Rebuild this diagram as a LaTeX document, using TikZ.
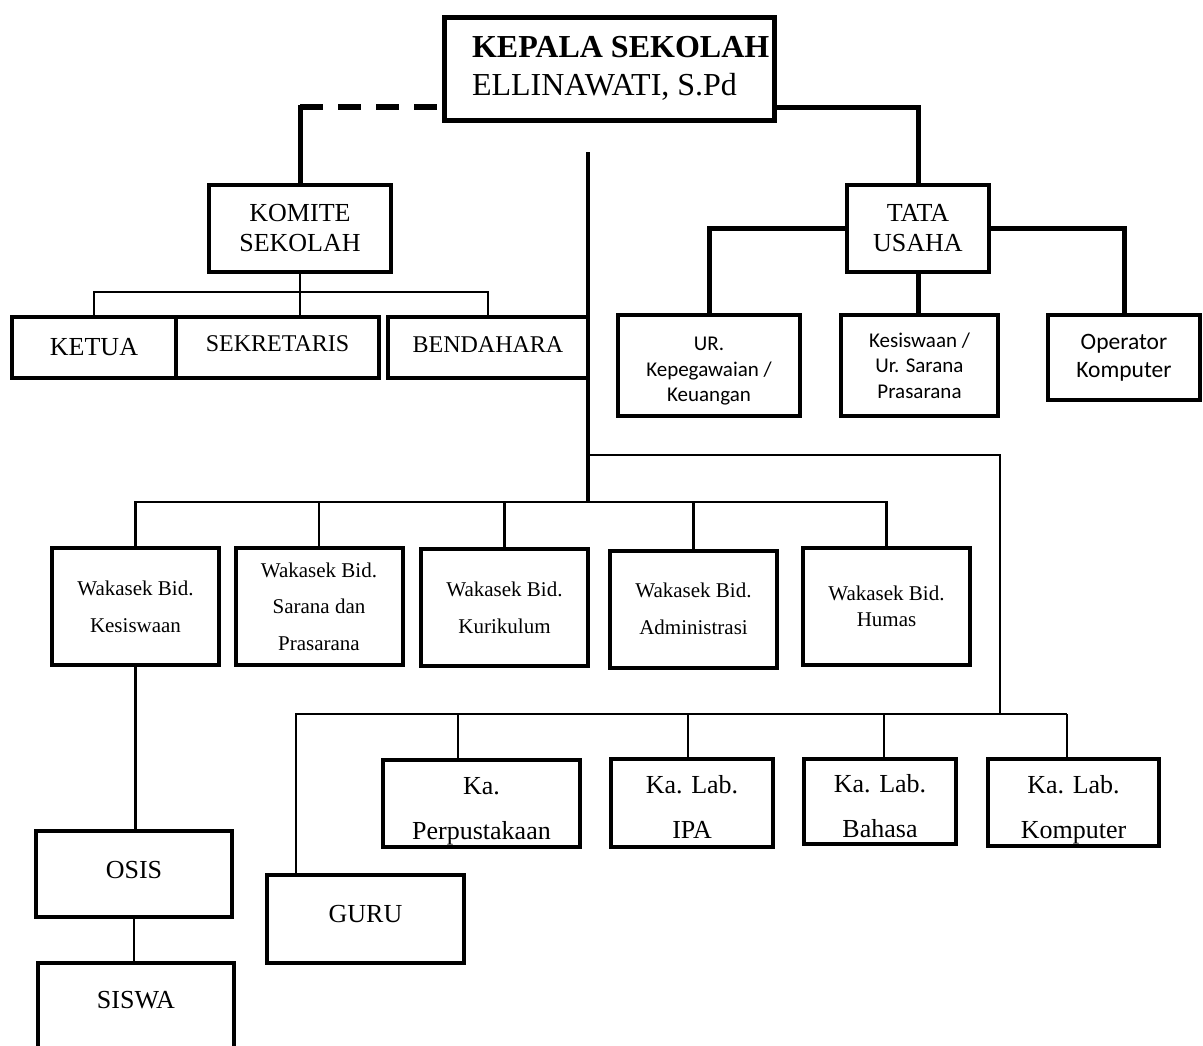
\documentclass[tikz,border=0pt]{standalone}
\usepackage{fontspec}
\setmainfont{Liberation Serif}
\newfontfamily\calibri{Carlito}
\newcommand\fs[2]{\fontsize{#1}{#2}\selectfont}

\begin{document}
\begin{tikzpicture}[x=1pt,y=-1pt,
    box/.style={draw,line width=4pt,inner sep=0pt,align=center},
    lab/.style={box,font=\fs{26}{45},text height=71pt,text depth=0pt},
    wakasek/.style={box,minimum width=167pt,minimum height=117pt,font=\fs{21}{37}},
    thickline/.style={line width=5pt,line cap=rect},
    thinline/.style={line width=2.4pt},
    dashline/.style={line width=5.5pt,dash pattern=on 23pt off 15pt}]
    \path[fill=white,use as bounding box] (0,0) rectangle (1203,1045);

    \node[box,line width=5pt,minimum width=330pt,minimum height=103pt,
        label={[anchor=west,xshift=27pt,align=left,font=\fs{32}{38}]west:{\textbf{KEPALA SEKOLAH}\\ELLINAWATI, S.Pd}}] (kepsek) at (609,68.5) {};

    \node[box,minimum width=182pt,minimum height=87pt,font=\fs{26}{30}] (komite) at (300,228.5) {KOMITE\\SEKOLAH};
    \node[box,minimum width=164pt,minimum height=61pt,font=\fs{26}{30}] (ketua) at (94,347.5) {KETUA};
    \node[box,minimum width=203pt,minimum height=61pt,font=\fs{24}{28},text depth=8pt] (sekretaris) at (277.5,347.5) {SEKRETARIS};
    \node[box,minimum width=200pt,minimum height=61pt,font=\fs{24}{28},text depth=6pt] (bendahara) at (488,347.5) {BENDAHARA};

    \node[box,minimum width=142pt,minimum height=87pt,font=\fs{26}{30}] (tu) at (918,228.5) {TATA\\USAHA};
    \node[box,minimum width=182pt,minimum height=101pt,font=\calibri\fs{21}{25.5},text height=72pt,text depth=0pt] (urpeg) at (709,365.5) {UR.\\Kepegawaian /\\Keuangan};
    \node[box,minimum width=157pt,minimum height=101pt,font=\calibri\fs{21}{25.5}] (ursarpras) at (919.5,365.5) {Kesiswaan /\\Ur. Sarana\\Prasarana};
    \node[box,minimum width=152pt,minimum height=85pt,font=\calibri\fs{23.5}{28}] (operator) at (1124,357.5) {Operator\\Komputer};

    \node[wakasek] (kesiswaan) at (135.5,606.5) {Wakasek Bid.\\Kesiswaan};
    \node[wakasek,font=\fs{21}{36.5}] (sarpras) at (319,606.5) {Wakasek Bid.\\Sarana dan\\Prasarana};
    \node[wakasek] (kurikulum) at (504.5,607.5) {Wakasek Bid.\\Kurikulum};
    \node[wakasek] (administrasi) at (693.5,609) {Wakasek Bid.\\Administrasi};
    \node[wakasek,font=\fs{21}{26}] (humas) at (886.5,606.5) {Wakasek Bid.\\Humas};

    \node[lab,minimum width=197pt,minimum height=87pt] (perpus) at (481.5,803.5) {Ka.\\Perpustakaan};
    \node[lab,minimum width=162pt,minimum height=88pt] (labipa) at (692,803) {Ka. Lab.\\IPA};
    \node[lab,minimum width=152pt,minimum height=85pt] (labbhs) at (880,801.5) {Ka. Lab.\\Bahasa};
    \node[lab,minimum width=171pt,minimum height=87pt] (labkom) at (1073.5,802.5) {Ka. Lab.\\Komputer};

    \node[box,minimum width=197pt,minimum height=88pt,font=\fs{26}{30},text depth=10pt] (guru) at (365.5,919) {GURU};
    \node[box,minimum width=196pt,minimum height=86pt,font=\fs{26}{30},text depth=8pt] (osis) at (134,874) {OSIS};
    \node[box,minimum width=196pt,minimum height=100pt,font=\fs{26}{30},text depth=26pt] (siswa) at (136,1013) {SISWA};

    \coordinate (kl) at ([yshift=-38.5pt]kepsek.west);
    \coordinate (kr) at ([yshift=-38.5pt]kepsek.east);
    \coordinate (kb) at ([yshift=-18pt]komite.south);
    \coordinate (trunk) at (588,152);
    \coordinate (lb) at (588,455);
    \coordinate (wb) at (588,502);
    \coordinate (lj) at (1000,714);
    \coordinate (gb) at (296,714);
    \coordinate (d1) at (458,714);
    \coordinate (d2) at (688,714);
    \coordinate (d3) at (884,714);
    \coordinate (d4) at (1067,714);

    \draw[dashline] (kl -| komite.north) -- (kl);
    \draw[thickline] (kl -| komite.north) -- (komite.north);
    \draw[thickline] (kr) -| (tu.north);
    \draw[thickline] (tu.west) -| (urpeg.north);
    \draw[thickline] (tu.south) -- (tu.south |- ursarpras.north);
    \draw[thickline] (tu.east) -| (operator.north);

    \draw[thinline] (komite.south) -- (komite.south |- sekretaris.north);
    \draw[thinline] (ketua.north) |- (kb) -| (bendahara.north);

    \draw[line width=4pt] (trunk) -- (wb);
    \draw[thinline] (kesiswaan.north) |- (wb) -| (humas.north);
    \foreach \n in {sarpras,kurikulum,administrasi}
        \draw[thinline] (\n.north) -- (\n.north |- wb);
    \draw[line width=2pt] (lb) -| (lj);

    \draw[thinline] (gb |- guru.north) -- (gb) -- (d4);
    \foreach \d/\n in {d1/perpus,d2/labipa,d3/labbhs,d4/labkom}
        \draw[thinline] (\d) -- (\d |- \n.north);

    \draw[thinline] (kesiswaan.south) -- (kesiswaan.south |- osis.north);
    \draw[line width=2pt] (osis.south) -- (osis.south |- siswa.north);
\end{tikzpicture}
\end{document}
